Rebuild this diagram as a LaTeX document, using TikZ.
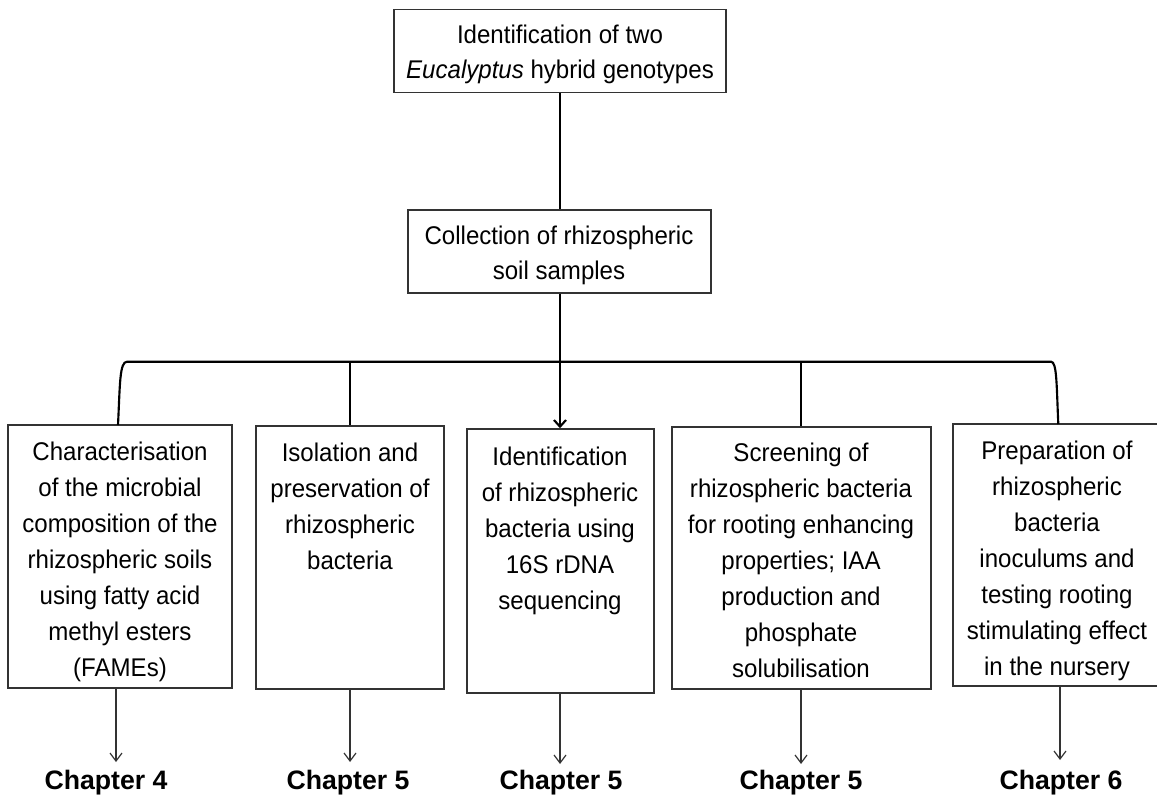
\documentclass[tikz,border=0pt]{standalone}
\usepackage{fontspec}
\setmainfont{Liberation Sans}[FakeStretch=0.94]
\newfontfamily\chapfont{Liberation Sans}
\usetikzlibrary{arrows.meta,fit}
\begin{document}
\begin{tikzpicture}[x=0.75pt,y=-0.75pt,
  box/.style={draw=black!80, line width=1.1pt, inner sep=0pt},
  txt/.style={align=center, inner sep=0pt, anchor=north, font=\fontsize{19.2}{27}\selectfont},
  toptxt/.style={align=center, inner sep=0pt, anchor=north, font=\fontsize{19.2}{26.3}\selectfont},
  conn/.style={line width=1.6pt, black},
  midarrow/.style={line width=1.6pt, black, -{Straight Barb[length=5pt,width=9pt,line width=1.6pt]}},
  outarrow/.style={draw=black!80, line width=0.9pt, -{Straight Barb[length=6pt,width=9pt]}},
  chap/.style={inner sep=0pt, font=\chapfont\bfseries\fontsize{20}{24}\selectfont}]
\useasboundingbox (0,0) rectangle (1157,798);

% top boxes
\node[box, fit={(394,9.5) (726,92.7)}] (top) {};
\node[toptxt] (toptext) at (560,25) {Identification of two\\\textit{Eucalyptus} hybrid genotypes};
\node[box, fit={(408,210) (711,293)}] (coll) {};
\node[toptxt] (colltext) at (559,226) {Collection of rhizospheric\\soil samples};

% lower boxes
\node[box, fit={(8,425) (232,688)}] (b1) {};
\node[box, fit={(256,426) (444,689)}] (b2) {};
\node[box, fit={(467,429) (654,693)}] (b3) {};
\node[box, fit={(672,427) (931,689)}] (b4) {};
\node[box, fit={(953,424) (1162,686)}] (b5) {};

\node[txt] (t1) at (120,442) {Characterisation\\of the microbial\\composition of the\\rhizospheric soils\\using fatty acid\\methyl esters\\(FAMEs)};
\node[txt] (t2) at (350,443) {Isolation and\\preservation of\\rhizospheric\\bacteria};
\node[txt] (t3) at (560,447) {Identification\\of rhizospheric\\bacteria using\\16S rDNA\\sequencing};
\node[txt] (t4) at (801,443) {Screening of\\rhizospheric bacteria\\for rooting enhancing\\properties; IAA\\production and\\phosphate\\solubilisation};
\node[txt] (t5) at (1057,441) {Preparation of\\rhizospheric\\bacteria\\inoculums and\\testing rooting\\stimulating effect\\in the nursery};

% connectors
\draw[conn] (top.south) -- (top.south |- coll.north);
\draw[midarrow] (top.south |- coll.south) -- (top.south |- b3.north);
\draw[conn] (118,425) .. controls (120,385) and (119.5,361.7) .. (127,361.7) -- (1051,361.7) .. controls (1057,361.7) and (1056.5,385) .. (1058.3,424);
\draw[conn] (350,361.7) -- (350,361.7 |- b2.north);
\draw[conn] (801,361.7) -- (801,361.7 |- b4.north);

% chapter labels
\node[chap] (c1) at (106,783) {Chapter 4};
\node[chap] (c2) at (348,783) {Chapter 5};
\node[chap] (c3) at (561,783) {Chapter 5};
\node[chap] (c4) at (801,783) {Chapter 5};
\node[chap] (c5) at (1061,783) {Chapter 6};

\draw[outarrow] (116,0 |- b1.south) -- (116,762);
\draw[outarrow] (350,0 |- b2.south) -- (350,762);
\draw[outarrow] (560,0 |- b3.south) -- (560,764);
\draw[outarrow] (801,0 |- b4.south) -- (801,764);
\draw[outarrow] (1060,0 |- b5.south) -- (1060,760);
\end{tikzpicture}
\end{document}
